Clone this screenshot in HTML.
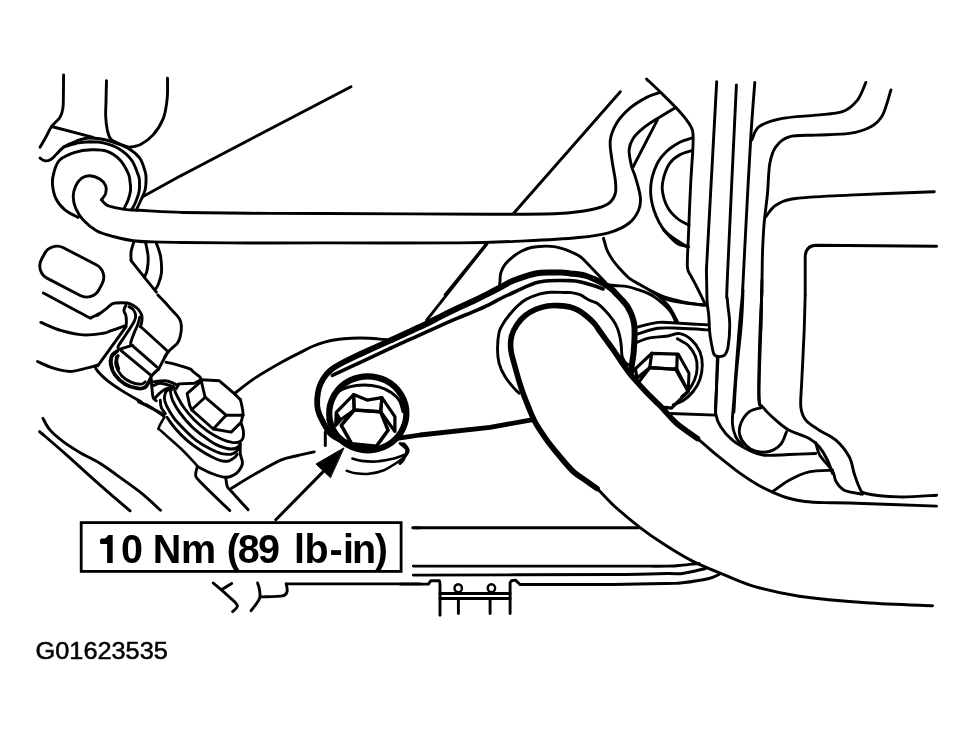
<!DOCTYPE html>
<html><head><meta charset="utf-8">
<style>
html,body{margin:0;padding:0;background:#fff;}
svg{display:block}
.l path{fill:none;stroke:#000;stroke-width:2.9;stroke-linecap:round;stroke-linejoin:round}
.t{font-family:"Liberation Sans",sans-serif;fill:#000}
</style></head><body>
<svg width="974" height="735" viewBox="0 0 974 735">
<rect width="974" height="735" fill="#fff"/>
<g class="l">
<!-- shapes_01_topleft.py -->
<path d="M63.6 75.0C63.6 78.0 63.5 87.7 63.4 93.3C63.3 98.8 63.5 104.2 62.9 108.2C62.3 112.3 61.8 114.3 59.9 117.4C58.0 120.4 54.0 123.2 51.6 126.5C49.2 129.9 47.7 133.9 45.8 137.3C43.8 140.8 40.9 145.7 40.0 147.3"/>
<path d="M51.6 126.5L93.2 137.3"/>
<path d="M40.0 158.1C40.8 158.6 43.1 160.6 45.0 160.8C46.8 161.0 48.8 160.6 50.8 159.5C52.7 158.3 54.4 156.1 56.6 154.0C58.8 151.9 60.8 149.0 64.1 146.8C67.4 144.7 72.8 142.4 76.6 141.0C80.3 139.6 82.7 138.5 86.5 138.2C90.4 137.8 95.4 138.2 99.8 138.8C104.3 139.5 108.4 140.6 113.1 142.2C117.9 143.7 123.7 145.5 128.1 148.2C132.6 150.8 136.9 154.3 139.8 158.1C142.6 162.0 144.0 168.1 145.1 171.4C146.1 174.8 146.1 175.2 146.1 178.3C146.1 181.4 146.0 186.2 145.1 190.0C144.2 193.7 142.0 197.4 140.6 200.8C139.2 204.1 137.1 208.4 136.4 209.9"/>
<path d="M64.1 146.8C66.2 146.2 72.3 144.0 76.6 143.2C80.9 142.3 85.4 141.9 89.9 141.8C94.3 141.8 98.5 141.8 103.2 142.8C107.9 143.9 113.4 145.3 118.1 148.2C122.8 151.0 128.1 155.4 131.4 159.8C134.8 164.2 136.8 171.4 138.1 174.8C139.4 178.1 139.3 177.2 139.4 180.0C139.6 182.8 139.8 187.7 139.1 191.6C138.4 195.5 136.4 200.2 135.1 203.3C133.8 206.3 132.1 208.8 131.4 209.9"/>
<path d="M78.2 217.4C76.0 216.2 68.7 213.1 64.9 209.9C61.2 206.7 57.8 202.7 55.8 198.3C53.7 193.8 52.7 187.7 52.4 183.3C52.2 178.9 52.9 175.6 54.1 171.7C55.3 167.7 56.5 163.0 59.9 159.8C63.4 156.6 69.6 154.0 74.9 152.3C80.2 150.7 86.3 150.0 91.5 149.8C96.8 149.6 101.8 149.5 106.5 151.2C111.2 152.8 116.2 156.1 119.8 159.8C123.4 163.5 126.5 169.7 128.1 173.1C129.8 176.5 129.4 177.2 129.8 180.0C130.2 182.8 130.9 186.6 130.6 190.0C130.3 193.3 129.2 196.8 128.1 199.9C127.0 203.0 124.7 207.1 124.0 208.6"/>
<path d="M106.5 80.8C106.4 84.3 106.1 95.6 106.0 101.6C105.9 107.5 105.4 111.8 105.7 116.6C105.9 121.3 106.5 126.1 107.3 129.9C108.2 133.6 108.6 136.7 110.7 139.0C112.7 141.4 116.8 142.6 119.8 144.0C122.8 145.4 127.4 146.8 128.9 147.3"/>
<path d="M167.5 78.3C167.5 81.6 167.9 91.6 167.2 98.3C166.5 104.9 165.7 112.1 163.4 118.2C161.0 124.3 156.9 130.5 153.1 134.9C149.3 139.2 144.6 142.4 140.6 144.5C136.6 146.6 130.9 146.9 128.9 147.3"/>
<path d="M101.5 199.9C102.2 198.8 105.0 195.6 105.7 193.3C106.4 190.9 106.6 188.2 105.7 185.8C104.7 183.4 102.5 180.8 99.8 179.1C97.2 177.5 92.9 176.0 89.9 175.8C86.8 175.7 83.9 176.7 81.5 178.3C79.2 180.0 77.1 182.8 75.7 185.8C74.3 188.9 73.2 192.9 73.2 196.6C73.2 200.4 74.1 204.4 75.7 208.3C77.4 212.1 79.7 216.2 83.2 219.9C86.7 223.6 91.5 227.9 96.5 230.7C101.5 233.5 107.0 234.9 113.1 236.5C119.2 238.2 126.5 239.8 133.1 240.7C139.8 241.6 144.9 241.6 153.1 241.9C161.2 242.2 177.2 242.4 182.0 242.5"/>
<path d="M101.5 199.9C102.3 200.8 104.0 203.6 106.5 204.9C109.0 206.3 113.1 207.1 116.5 207.9C119.8 208.7 122.6 209.2 126.5 209.6C130.3 210.0 133.9 209.9 139.8 210.3C145.6 210.6 154.3 211.2 161.4 211.6C168.4 211.9 178.6 212.3 182.0 212.4"/>
<path d="M143.1 196.6L182.0 175.0"/>
<!-- shapes_02_left.py -->
<path d="M63.4 247.7L96.2 264.8A14 14 0 0 1 102.2 283.7L99.1 289.5A14 14 0 0 1 80.2 295.5L47.4 278.4A14 14 0 0 1 41.4 259.5L44.5 253.7A14 14 0 0 1 63.4 247.7Z"/>
<path d="M133.9 241.5C133.5 243.2 131.6 248.3 131.1 251.5C130.6 254.7 131.1 259.1 131.1 260.7"/>
<path d="M131.1 260.7L146.4 279.8L156.4 292.1"/>
<path d="M145.6 242.4C146.0 244.7 147.8 251.9 148.1 256.5C148.4 261.1 147.8 266.5 147.2 269.8C146.7 273.1 145.2 275.3 144.8 276.5"/>
<path d="M156.4 243.2C157.1 245.4 159.7 251.5 160.6 256.5C161.4 261.5 161.8 268.4 161.4 273.1C161.0 277.8 159.0 282.1 158.1 284.8C157.1 287.4 156.0 288.2 155.6 288.9"/>
<path d="M43.3 293.0C50.4 296.8 77.7 311.7 85.7 315.8C93.7 319.8 89.2 317.8 91.5 317.4C93.9 317.0 98.9 313.6 99.8 313.3C100.8 313.0 96.3 316.2 97.2 315.5C98.1 314.9 103.0 311.3 105.4 309.4C107.8 307.5 109.8 305.3 111.6 304.2C113.3 303.2 113.1 303.2 115.7 303.0C118.2 302.8 124.1 302.6 127.0 303.0C129.9 303.4 131.2 304.2 133.1 305.3C135.0 306.3 136.8 307.7 138.3 309.4C139.7 311.1 141.2 313.5 141.8 315.5C142.4 317.6 142.1 319.8 141.8 321.7C141.6 323.6 140.6 326.0 140.3 326.8"/>
<path d="M125.9 305.3C125.6 306.1 123.9 308.7 123.9 310.4C123.9 312.1 125.5 313.7 125.9 315.5C126.4 317.4 126.4 319.8 126.4 321.7C126.4 323.6 126.0 326.0 125.9 326.8"/>
<path d="M129.0 306.8C129.7 307.2 132.0 307.9 133.1 309.4C134.2 310.8 135.5 313.5 135.7 315.5C135.9 317.6 135.3 319.3 134.1 321.7C133.0 324.1 130.9 327.0 129.0 329.9C127.1 332.8 124.7 336.4 122.9 339.1C121.1 341.9 118.9 344.6 118.2 346.3C117.5 348.0 118.7 348.9 118.7 349.4"/>
<path d="M40.8 322.4C44.3 323.8 54.5 328.7 61.6 330.7C68.7 332.8 76.3 334.5 83.2 334.9C90.1 335.3 98.6 333.9 103.2 333.2C107.7 332.6 106.9 332.2 110.5 330.9C114.2 329.7 122.5 326.7 124.9 325.8"/>
<path d="M125.9 326.8L97.7 365.8"/>
<path d="M37.5 361.5C40.1 362.6 47.9 366.5 53.3 368.2C58.7 369.8 64.4 371.5 69.9 371.5C75.4 371.5 81.8 369.3 86.5 368.2C91.2 367.0 96.2 365.4 98.2 364.8"/>
<path d="M98.2 364.8C97.8 365.4 94.3 365.7 95.7 368.2C97.1 370.7 101.9 375.9 106.5 379.8C111.1 383.7 117.3 387.7 123.1 391.4C128.9 395.2 138.4 400.3 141.4 402.1"/>
<path d="M139.8 317.1C139.5 318.4 138.7 322.1 137.7 324.8C136.8 327.4 135.3 329.9 134.1 333.0C133.0 336.1 130.9 341.2 130.6 343.3C130.2 345.3 131.8 345.0 132.1 345.3"/>
<path d="M132.1 345.3L120.8 348.9"/>
<path d="M141.3 327.3L168.0 351.5"/>
<path d="M132.1 345.3L156.7 366.9"/>
<path d="M120.8 350.4L151.6 375.8"/>
<path d="M168.0 351.5L161.9 362.8L158.8 368.9"/>
<path d="M157.8 295.0C158.8 296.0 161.5 298.6 163.9 301.2C166.3 303.7 169.6 307.5 172.1 310.4C174.7 313.3 177.8 316.0 179.3 318.6C180.9 321.2 181.2 322.9 181.4 325.8C181.5 328.7 181.0 333.2 180.3 336.1C179.7 339.0 179.2 340.8 177.3 343.3C175.4 345.7 171.1 348.7 169.1 351.0C167.0 353.2 165.6 355.7 164.9 356.6"/>
<path d="M117.7 351.0C116.8 351.6 113.2 352.9 112.1 354.5C111.0 356.2 111.0 358.3 111.0 360.7C111.1 363.1 112.3 367.6 112.6 368.9"/>
<path d="M118.2 355.6C118.0 356.4 116.6 358.5 116.7 360.7C116.8 362.9 118.4 367.6 118.7 368.9"/>
<!-- shapes_03_bolt2.py -->
<path d="M116.6 351.6C115.8 352.5 112.6 354.4 111.6 356.6C110.7 358.9 110.3 361.9 110.8 365.0C111.4 368.0 112.6 371.7 115.0 374.9C117.3 378.1 121.3 381.9 125.0 384.1C128.6 386.3 133.3 387.7 136.6 388.2C139.9 388.8 142.7 388.8 144.9 387.4C147.1 386.0 149.1 381.2 149.9 379.9" style="stroke-width:3.8;"/>
<path d="M116.6 356.6C116.5 358.0 115.0 361.8 115.8 365.0C116.6 368.1 119.0 372.9 121.6 375.8C124.3 378.7 128.3 381.0 131.6 382.4C134.9 383.8 139.3 384.2 141.6 384.1C143.9 384.0 144.6 382.3 145.2 381.9"/>
<path d="M158.7 368.9C157.5 370.1 153.0 374.0 151.6 375.8C150.1 377.5 150.2 378.9 149.9 379.6"/>
<path d="M138.3 401.5C141.3 403.1 152.3 408.5 156.6 410.7C160.9 412.9 162.8 414.2 164.0 414.9"/>
<path d="M166.0 362.2C167.9 362.6 173.3 363.7 177.3 364.8C181.3 365.9 187.4 367.8 190.0 368.9C192.6 370.0 191.5 370.3 193.1 371.6C194.8 372.9 198.5 375.6 199.8 376.9C201.1 378.3 200.8 379.3 201.0 379.8"/>
<path d="M201.0 379.8L219.4 380.8L234.3 393.6L240.5 399.8"/>
<path d="M240.5 399.8C240.8 401.3 242.1 406.4 242.5 409.0C243.0 411.6 243.0 414.1 243.0 415.2"/>
<path d="M201.0 379.8C201.4 381.6 202.8 387.6 203.5 390.5C204.2 393.4 204.8 396.1 205.1 397.2"/>
<path d="M205.1 397.2L226.1 415.2L243.0 415.2"/>
<path d="M226.1 415.2L213.3 429.0L231.2 432.1L241.0 422.4L243.0 415.2"/>
<path d="M201.0 381.3L187.1 393.6L189.7 405.4L191.7 409.8L205.1 397.2"/>
<path d="M191.7 409.8L213.3 429.0"/>
<path d="M151.2 378.2C151.3 380.3 151.8 387.3 152.2 390.5C152.5 393.8 152.5 396.0 153.2 397.7C153.9 399.4 155.8 400.3 156.3 400.8"/>
<path d="M153.7 381.8C155.7 381.6 162.0 380.4 165.5 380.8C169.0 381.1 172.9 383.1 174.8 383.9C176.7 384.6 176.5 385.1 176.8 385.4"/>
<path d="M176.8 385.4L178.9 383.9L194.3 383.3L201.0 379.8"/>
<path d="M153.7 385.4C154.8 385.1 157.7 383.3 160.4 383.3C163.1 383.3 167.4 384.8 169.6 385.4C171.9 386.0 173.1 386.7 173.7 386.9"/>
<path d="M155.3 397.7C156.1 396.9 158.7 394.0 160.4 392.6C162.1 391.1 163.5 389.9 165.5 389.0C167.6 388.1 171.5 387.3 172.7 386.9"/>
<path d="M178.9 384.4C178.5 385.1 177.0 387.5 176.3 388.5C175.6 389.4 174.4 388.5 174.6 390.0C174.9 391.5 176.2 394.3 177.7 397.2C179.3 400.1 181.1 403.7 183.9 407.5C186.6 411.2 190.2 415.8 194.1 419.8C198.1 423.7 202.9 427.8 207.5 431.1C212.1 434.3 217.8 437.4 221.9 439.3C226.0 441.2 229.2 441.9 232.1 442.4C235.0 442.8 237.5 442.5 239.3 441.8C241.1 441.2 242.2 440.1 242.9 438.3C243.6 436.5 243.7 433.5 243.4 431.1C243.2 428.7 241.7 425.1 241.4 423.9"/>
<path d="M173.7 386.9C173.3 387.5 171.7 389.2 171.2 390.0C170.6 390.9 170.3 390.3 170.5 392.1C170.8 393.8 171.0 396.8 172.6 400.3C174.1 403.7 176.7 408.3 179.8 412.6C182.9 416.9 187.1 422.0 191.1 425.9C195.0 429.9 199.3 433.1 203.4 436.2C207.5 439.3 211.8 442.4 215.7 444.4C219.6 446.5 223.8 447.8 227.0 448.5C230.3 449.2 233.2 449.0 235.2 448.5C237.3 448.0 238.5 446.5 239.3 445.4C240.2 444.4 240.2 442.9 240.3 442.4"/>
<path d="M168.6 389.5C168.1 389.9 166.1 391.5 165.5 392.1C165.0 392.7 165.6 392.1 165.4 393.1C165.2 394.1 164.2 396.2 164.4 398.2C164.5 400.3 164.9 402.1 166.4 405.4C168.0 408.7 170.7 413.8 173.6 417.7C176.5 421.7 180.1 425.2 183.9 429.0C187.6 432.8 191.9 437.1 196.2 440.3C200.5 443.6 205.3 446.3 209.5 448.5C213.8 450.7 218.3 452.7 221.9 453.7C225.5 454.6 228.7 454.5 231.1 454.2C233.5 453.8 235.0 452.5 236.2 451.6C237.4 450.7 238.0 449.0 238.3 448.5"/>
<path d="M160.3 400.3C160.4 401.5 160.4 405.2 161.3 407.5C162.1 409.7 164.7 412.6 165.4 413.6"/>
<path d="M166.9 417.2C168.4 419.2 172.3 425.2 175.7 429.0C179.0 432.9 183.0 436.9 187.0 440.3C190.9 443.7 195.2 446.8 199.3 449.5C203.4 452.3 207.8 454.9 211.6 456.7C215.4 458.6 219.0 460.2 221.9 460.8C224.8 461.5 227.0 461.4 229.1 460.8C231.1 460.3 232.8 458.9 234.2 457.8C235.6 456.6 236.8 454.8 237.3 454.2"/>
<path d="M164.4 417.2C163.4 419.0 159.2 425.7 158.7 428.0C158.2 430.3 157.6 427.6 161.3 431.1C165.0 434.5 175.2 443.2 180.8 448.5C186.4 453.9 192.1 460.2 194.9 463.2C197.7 466.2 197.0 466.0 197.4 466.5" style="stroke-width:2.6;"/>
<path d="M240.3 444.4C240.3 446.0 240.0 450.7 240.3 453.7C240.7 456.6 242.2 459.7 242.4 461.9C242.6 464.0 242.5 464.6 241.5 466.5C240.5 468.4 239.0 471.4 236.5 473.2C234.0 475.0 230.4 477.2 226.5 477.3C222.6 477.5 218.0 475.8 213.2 474.0C208.3 472.2 200.0 467.8 197.4 466.5"/>
<path d="M197.4 466.5C197.1 467.9 195.3 472.4 195.7 474.9C196.1 477.3 194.2 475.5 199.9 481.5C205.6 487.5 224.8 505.8 229.8 510.6"/>
<path d="M225.7 477.3C225.9 478.9 226.4 484.1 227.3 486.5C228.3 488.9 228.0 487.6 231.5 491.5C234.9 495.4 245.3 506.7 248.1 509.8"/>
<path d="M231.5 488.2C235.6 485.7 248.1 477.9 256.4 473.2C264.8 468.5 274.8 462.7 281.4 459.9C288.0 457.0 292.1 457.0 296.0 456.0C299.9 455.0 302.0 454.5 305.0 453.8C308.0 453.1 312.7 452.2 314.2 451.9"/>
<path d="M140.0 402.5C141.7 403.2 146.1 404.4 150.0 406.7C153.9 408.9 161.1 414.3 163.3 415.8"/>
<!-- shapes_04_bolt2low.py -->
<path d="M42.9 418.3C44.1 420.2 46.5 426.0 49.9 429.9C53.3 433.8 58.2 437.9 63.2 441.6C68.2 445.4 73.7 448.8 79.8 452.4C85.9 456.0 93.7 459.5 99.8 463.2C105.9 466.9 109.5 469.8 116.4 474.8C123.3 479.8 134.1 487.2 141.4 493.1C148.8 499.0 157.3 507.4 160.5 510.3"/>
<path d="M39.6 431.6C44.1 435.5 56.5 446.0 66.5 454.9C76.5 463.8 89.2 475.5 99.8 484.8C110.4 494.1 125.0 506.5 130.1 510.8"/>
<!-- shapes_05_mainbolt.py -->
<path d="M234.9 393.1C238.2 390.6 247.4 383.1 254.9 378.1C262.4 373.1 272.3 367.4 279.8 363.2C287.3 359.0 294.6 355.4 300.0 352.6C305.4 349.9 308.2 348.2 312.3 346.5C316.4 344.7 320.5 343.3 324.6 342.2C328.7 341.0 332.4 340.1 337.0 339.5C341.5 338.8 346.4 338.4 351.7 338.2C357.1 338.0 363.7 338.0 369.0 338.2C374.3 338.4 380.3 339.2 383.8 339.5C387.3 339.8 388.9 340.0 389.9 340.1"/>
<path d="M391.2 340.1C386.2 342.3 370.0 349.6 361.6 353.5C353.2 357.5 345.9 360.9 340.7 363.7C335.4 366.6 333.1 368.0 330.2 370.5C327.3 373.0 325.3 375.6 323.4 378.5C321.6 381.4 320.1 384.4 319.1 387.8C318.1 391.1 317.5 395.2 317.2 398.8C317.0 402.5 317.0 406.3 317.9 409.9C318.7 413.5 320.0 416.4 322.2 420.4C324.3 424.4 327.5 430.6 330.8 434.0C334.1 437.3 338.6 439.0 341.9 440.7C345.2 442.5 349.1 443.8 350.5 444.4" style="stroke-width:5.8;"/>
<path d="M391.2 347.8C386.6 350.0 371.5 357.2 364.1 360.7C356.7 364.1 352.1 366.2 346.8 368.7C341.5 371.1 334.7 374.3 332.3 375.4" style="stroke-width:3.6;"/>
<path d="M367.8 376.3 a38.6 37 0 1 0 0.01 0Z" style="stroke-width:6.2;"/>
<path d="M329.0 419.6C329.5 421.1 330.7 425.5 332.3 428.3C333.8 431.0 335.4 433.6 338.2 436.3C341.0 438.9 345.0 442.2 349.3 444.3C353.6 446.4 359.5 448.0 364.1 449.0C368.6 449.9 374.3 449.7 376.4 449.8" style="stroke-width:5;"/>
<path d="M349.3 444.8C351.3 445.2 357.3 446.8 361.6 447.3C365.9 447.8 372.9 447.7 375.2 447.8" style="stroke-width:4;"/>
<path d="M330.8 402.0C331.8 400.4 333.9 395.2 337.0 392.7C340.0 390.2 344.8 388.2 349.3 386.9C353.8 385.7 359.1 385.1 364.1 385.1C369.0 385.1 374.3 385.7 378.8 386.9C383.4 388.1 387.7 390.1 391.2 392.4C394.6 394.7 397.6 397.5 399.5 400.7C401.5 404.0 402.4 410.0 403.0 411.8" style="stroke-width:3;"/>
<path d="M353.6 394.6L367.1 400.1L381.9 397.7L380.7 411.8L354.2 410.0Z" style="stroke-width:3.2;"/>
<path d="M353.6 394.6L336.3 412.4L335.7 425.4L341.3 419.2L354.2 410.0Z" style="stroke-width:3.2;"/>
<path d="M336.7 412.8L340.7 419.0L336.0 425.1Z" style="stroke-width:2;fill:#000;"/>
<path d="M381.9 397.7L394.9 416.7L394.9 431.5L388.7 422.9L380.7 411.8Z" style="stroke-width:3.2;"/>
<path d="M354.2 410.0L380.7 411.8L388.1 430.3L376.4 446.3L351.7 443.9L341.3 425.4Z" style="stroke-width:3.6;"/>
<path d="M397.3 438.4L420.0 435.0L490.0 427.3L531.6 419.9" style="stroke-width:4.8;"/>
<path d="M325.3 432.0L325.3 445.5" style="stroke-width:3;"/>
<path d="M352.4 458.5C353.9 458.9 357.6 460.4 361.6 460.9C365.6 461.4 371.5 461.8 376.4 461.5C381.3 461.2 386.4 460.2 391.2 459.1C395.9 457.9 402.5 455.5 404.7 454.8" style="stroke-width:2.6;"/>
<path d="M346.8 470.8C348.3 471.2 351.7 472.7 355.4 473.2C359.1 473.7 364.3 474.4 369.0 473.8C373.7 473.3 378.8 472.2 383.8 470.2C388.7 468.1 394.9 464.0 398.6 461.5C402.3 459.1 404.3 457.2 406.0 455.4C407.6 453.5 408.6 452.3 408.4 450.4C408.2 448.6 405.7 445.4 404.7 444.3C403.7 443.2 402.7 443.8 402.3 443.7" style="stroke-width:2.6;"/>
<path d="M275.8 519.8L323.2 471.6" style="stroke-width:3;"/>
<path d="M343.7 448.0L316.0 464.0L330.2 477.5Z" style="stroke-width:1;fill:#000;"/>
<!-- shapes_06_underbox.py -->
<path d="M213.2 583.0C215.5 585.0 223.1 591.3 227.1 595.0C231.1 598.7 236.3 602.4 237.3 605.2C238.2 607.9 233.4 610.6 232.6 611.6"/>
<path d="M221.9 589.5L231.7 583.4"/>
<path d="M257.6 583.0C257.9 584.1 259.1 586.8 259.4 589.5C259.7 592.1 260.8 595.2 259.4 598.7C258.0 602.3 252.5 608.7 251.1 610.7"/>
<path d="M261.3 596.9C264.8 596.7 278.2 596.9 282.5 595.9C286.8 595.0 286.5 593.3 287.1 591.3C287.7 589.3 286.4 585.2 286.2 583.9"/>
<path d="M286.2 583.9L420.0 583.9"/>
<!-- shapes_07_topright.py -->
<path d="M182.3 212.5C193.6 212.6 226.2 213.1 250.0 213.3C273.8 213.5 284.7 213.4 325.0 213.5C365.3 213.6 452.9 214.2 491.8 214.2C530.8 214.2 541.9 214.3 558.6 213.5C575.3 212.7 583.6 211.2 591.9 209.5C600.3 207.8 604.7 206.2 608.6 203.5C612.5 200.8 614.2 197.4 615.3 193.5C616.4 189.6 615.8 185.7 615.3 180.1C614.7 174.6 612.8 166.8 612.0 160.1C611.1 153.4 609.5 146.2 610.3 140.1C611.1 133.9 613.4 128.5 616.6 123.2C619.9 117.9 625.0 112.5 629.9 108.2C634.9 103.9 641.6 100.1 646.6 97.4C651.6 94.8 657.7 93.3 659.9 92.4"/>
<path d="M182.3 242.5C193.6 242.6 226.2 242.9 250.0 243.0C273.8 243.1 290.3 242.9 325.0 242.9C359.7 242.8 425.1 243.2 458.5 242.9C491.8 242.5 505.2 241.7 525.2 240.9C545.2 240.0 564.7 238.9 578.6 237.5C592.5 236.2 600.3 235.2 608.6 232.8C617.0 230.5 623.6 227.3 628.6 223.5C633.6 219.7 636.7 214.6 638.6 210.2C640.6 205.7 640.9 202.4 640.3 196.8C639.8 191.3 636.8 181.9 635.3 176.8C633.9 171.7 632.6 170.9 631.6 166.5C630.6 162.0 628.8 154.5 629.1 149.8C629.4 145.1 630.9 141.8 633.3 138.2C635.6 134.6 639.4 131.4 643.2 128.2C647.1 125.0 651.1 122.5 656.6 119.0C662.0 115.6 672.5 109.3 675.7 107.4"/>
<path d="M657.4 119.9L633.3 166.5"/>
<path d="M182.3 175.0L351.0 86.7"/>
<path d="M620.3 91.7L513.5 213.5"/>
<path d="M486.8 243.5L445.1 294.9"/>
<path d="M646.6 79.1C648.8 81.2 655.2 87.0 659.9 91.6C664.6 96.2 670.4 101.9 674.9 106.6C679.3 111.3 683.6 116.0 686.5 119.9C689.4 123.8 691.2 126.0 692.3 129.9C693.4 133.7 693.4 134.2 693.1 143.2C692.9 152.1 691.5 167.9 690.7 183.5C689.9 199.1 688.9 223.0 688.4 236.9C687.8 250.8 687.0 260.4 687.4 266.9C687.8 273.4 689.4 272.7 690.8 275.7C692.2 278.7 694.1 281.6 695.7 284.8C697.3 288.0 699.1 291.6 700.6 294.6C702.1 297.6 703.9 301.6 704.5 303.0"/>
<path d="M691.5 138.2C689.5 138.9 684.0 140.1 679.8 142.3C675.7 144.6 670.4 147.7 666.5 151.5C662.7 155.2 659.2 158.9 656.6 164.8C653.9 170.7 651.1 179.2 650.7 186.8C650.2 194.4 651.5 202.7 654.0 210.2C656.5 217.7 660.1 225.7 665.7 231.8C671.2 238.0 683.8 244.4 687.4 246.9"/>
<path d="M691.5 150.7C689.5 151.3 683.4 152.7 679.8 154.8C676.2 156.9 672.5 159.5 669.9 163.1C667.2 166.7 665.3 171.9 664.0 176.4C662.8 180.9 661.8 185.1 662.3 190.1C662.9 195.2 664.8 202.1 667.4 206.8C669.9 211.6 673.7 215.4 677.4 218.5C681.0 221.6 687.1 224.1 689.0 225.2"/>
<path d="M716.7 81.7L706.4 270.0"/>
<path d="M754.8 82.4C754.1 91.4 752.2 114.3 750.8 136.8C749.4 159.2 747.8 190.5 746.4 216.8C745.0 243.2 743.1 281.9 742.4 294.9"/>
<path d="M751.8 140.1C753.0 137.9 754.0 130.4 759.1 126.7C764.2 123.1 773.0 120.3 782.5 118.4C791.9 116.5 805.8 116.2 815.8 115.1C825.8 114.0 835.6 114.2 842.5 111.7C849.5 109.2 853.6 104.9 857.5 100.1C861.4 95.2 864.5 85.3 865.9 82.4"/>
<path d="M890.9 90.0C889.5 94.2 885.9 108.9 882.6 115.1C879.2 121.2 876.4 123.7 870.9 126.7C865.3 129.8 858.4 132.0 849.2 133.4C840.0 134.8 825.8 134.5 815.8 135.1C805.8 135.6 795.8 134.8 789.1 136.8C782.5 138.7 779.0 142.3 775.8 146.8C772.6 151.2 771.2 155.7 769.8 163.4C768.4 171.2 768.4 183.5 767.5 193.5C766.5 203.5 764.9 214.1 764.1 223.5C763.3 232.9 763.0 240.6 762.6 250.0C762.2 259.4 762.3 266.7 762.0 280.0C761.7 293.3 761.0 321.7 760.8 330.0"/>
<path d="M765.8 216.8C767.5 214.9 770.8 208.2 775.8 205.2C780.8 202.1 783.6 200.2 795.8 198.5C808.0 196.8 826.1 196.3 849.2 195.1C872.3 194.0 920.1 192.4 934.3 191.8"/>
<path d="M936.6 246.2L816.5 245.2Q805.2 245.4 805.2 257.5L805.2 294.9"/>
<!-- shapes_08_center.py -->
<path d="M486.8 244.0L426.7 320.1"/>
<path d="M391.2 340.1C396.9 337.5 417.4 328.2 425.5 324.3C433.6 320.4 434.9 319.4 440.0 316.8C445.1 314.2 450.9 311.3 456.4 308.7C461.9 306.1 467.4 303.8 472.9 301.2C478.4 298.6 484.8 295.4 489.3 293.1C493.8 290.8 496.2 289.5 500.0 287.5C503.8 285.5 508.2 282.9 512.3 281.1C516.4 279.3 520.5 277.9 524.6 276.6C528.7 275.3 532.9 274.0 537.0 273.3C541.1 272.6 545.2 272.6 549.3 272.5C553.4 272.4 558.1 272.4 561.6 272.5C565.1 272.6 567.2 273.1 570.0 273.4C572.8 273.7 575.5 273.8 578.2 274.2C580.9 274.6 583.7 275.1 586.4 276.0C589.1 276.9 591.9 278.1 594.6 279.3C597.4 280.5 600.1 281.8 602.9 283.4C605.6 285.0 608.6 286.7 611.1 288.7C613.6 290.7 615.6 293.2 617.6 295.3C619.6 297.4 621.4 299.1 623.0 301.0C624.6 302.9 626.1 304.3 627.5 306.6C628.9 308.9 630.5 311.9 631.6 314.8C632.7 317.7 633.6 320.8 634.1 323.8C634.6 326.8 634.6 329.8 634.6 332.9C634.6 336.0 634.5 339.4 634.3 342.7C634.1 346.0 633.8 350.0 633.6 352.6C633.4 355.2 633.2 355.9 632.9 358.2C632.6 360.5 631.9 364.1 631.6 366.4C631.3 368.7 631.3 371.1 631.2 372.0" style="stroke-width:6;"/>
<path d="M391.2 347.8C393.8 346.6 401.3 343.3 407.0 340.7C412.7 338.1 420.0 334.9 425.5 332.4C431.0 329.9 434.9 328.2 440.0 325.9C445.1 323.6 450.9 320.9 456.4 318.6C461.9 316.3 467.4 314.2 472.9 311.9C478.4 309.6 484.8 306.8 489.3 304.6C493.8 302.4 496.2 300.7 500.0 298.8C503.8 296.9 508.2 294.9 512.3 293.0C516.4 291.1 520.5 289.1 524.6 287.3C528.7 285.5 532.9 283.5 537.0 282.4C541.1 281.3 545.2 281.0 549.3 280.7C553.4 280.4 558.1 280.5 561.6 280.5C565.1 280.5 567.2 280.5 570.0 280.6C572.8 280.8 575.5 280.9 578.2 281.4C580.9 281.9 583.6 282.6 586.4 283.4C589.2 284.2 592.2 285.1 595.0 286.0C597.8 286.9 601.7 288.5 603.0 289.0" style="stroke-width:3.6;"/>
<path d="M499.5 286.0C499.6 285.2 499.8 283.3 500.0 281.1C500.2 278.9 500.0 275.6 500.8 272.9C501.6 270.2 503.0 267.3 504.9 264.7C506.8 262.1 509.5 259.6 512.3 257.3C515.0 255.1 518.2 252.8 521.4 251.2C524.5 249.6 527.7 248.3 531.2 247.5C534.8 246.7 538.9 246.3 542.7 246.2C546.5 246.0 550.6 246.1 554.2 246.6C557.8 247.1 560.8 248.0 564.1 249.1C567.4 250.2 571.2 252.0 573.9 253.2C576.5 254.4 578.3 255.4 580.0 256.5C581.7 257.6 581.5 257.5 584.0 260.0C586.5 262.5 591.5 267.8 595.0 271.5C598.5 275.2 603.6 280.4 605.3 282.2"/>
<path d="M519.1 393.2C518.1 392.2 515.6 390.2 513.3 387.4C510.9 384.6 507.4 380.6 505.0 376.6C502.6 372.6 500.4 367.9 499.1 363.3C497.9 358.7 497.5 354.1 497.5 349.0C497.5 343.9 498.1 336.9 499.0 332.7C499.9 328.5 501.5 326.6 503.1 323.7C504.8 320.8 506.6 318.4 508.9 315.5C511.2 312.6 514.2 309.1 517.1 306.4C520.0 303.7 522.4 301.4 526.1 299.4C529.8 297.3 535.0 295.3 539.3 294.1C543.5 292.9 547.5 292.6 551.6 292.3C555.7 292.0 560.6 292.4 563.9 292.5C567.2 292.6 568.8 292.2 571.5 292.6C574.2 293.0 577.1 293.5 580.0 294.7C582.9 295.9 586.0 298.6 588.9 300.0C591.8 301.4 594.4 301.5 597.1 303.3C599.8 305.1 602.7 308.0 605.3 310.7C607.9 313.4 610.7 316.7 612.7 319.7C614.8 322.7 616.4 325.7 617.6 328.7C618.8 331.7 619.5 334.9 620.1 337.8C620.7 340.7 621.0 343.6 621.3 346.0C621.5 348.4 621.5 350.2 621.6 352.0C621.8 353.8 621.7 355.0 622.2 356.6C622.7 358.2 623.7 360.1 624.6 361.5C625.5 362.9 627.4 364.2 627.9 364.8"/>
<path d="M597.0 488.5C595.0 487.1 589.0 482.8 585.0 480.0C581.0 477.2 577.5 475.5 573.3 471.6C569.1 467.7 564.3 461.8 559.9 456.5C555.5 451.2 550.6 445.4 546.6 439.8C542.6 434.2 538.8 428.7 535.7 423.2C532.7 417.7 530.8 412.7 528.3 406.6C525.8 400.5 523.0 393.3 520.8 386.6C518.6 379.9 516.6 372.7 515.0 366.6C513.4 360.5 511.5 355.1 510.9 350.0C510.3 344.9 510.6 340.2 511.6 336.0C512.6 331.8 514.8 327.9 517.1 324.5C519.4 321.1 522.1 318.0 525.3 315.5C528.4 313.0 532.3 310.9 536.0 309.3C539.7 307.7 543.8 306.6 547.5 306.0C551.2 305.4 554.5 305.4 558.2 305.6C562.0 305.8 566.7 306.2 570.0 307.0C573.3 307.8 575.5 308.8 578.2 310.3C580.9 311.8 583.7 313.8 586.4 316.0C589.1 318.2 592.3 321.1 594.6 323.8C596.9 326.5 598.3 329.1 600.4 332.0C602.5 334.9 604.8 338.1 607.0 341.1C609.2 344.1 611.2 346.8 613.5 350.1C615.8 353.4 618.0 357.0 620.5 360.7C623.0 364.4 626.0 368.6 628.7 372.2C631.5 375.8 634.1 378.7 637.0 382.0C639.9 385.3 642.9 388.6 646.0 391.9C649.1 395.2 652.9 398.7 655.9 401.7C658.9 404.7 660.7 406.4 664.1 410.0C667.5 413.6 671.0 418.5 676.6 423.3C682.1 428.0 693.9 436.0 697.4 438.6" style="stroke-width:5.6;"/>
<path d="M676.6 423.3C680.1 425.8 690.7 433.3 697.4 438.6C704.0 443.8 709.4 449.1 716.5 454.9C723.6 460.6 733.1 468.3 739.8 473.2C746.5 478.0 750.9 480.8 756.4 484.0C762.0 487.2 767.5 489.9 773.1 492.3C778.6 494.7 784.4 497.0 789.7 498.5C795.0 500.0 799.1 500.8 805.0 501.5C810.9 502.2 817.6 502.4 825.0 502.6C832.4 502.9 830.6 502.4 849.2 503.0C867.8 503.6 922.0 505.6 936.6 506.1"/>
<path d="M603.5 238.3C604.1 240.2 605.5 246.4 607.0 250.0C608.5 253.6 610.7 257.0 612.7 260.0C614.8 263.0 616.6 265.2 619.3 268.2C622.0 271.2 625.7 275.4 629.1 278.1C632.5 280.8 636.2 282.5 639.8 284.6C643.4 286.7 646.6 288.6 650.5 290.5C654.4 292.4 658.8 294.7 662.9 296.3C667.0 297.9 671.1 298.9 675.2 300.0C679.3 301.1 683.4 302.1 687.5 302.9C691.6 303.6 696.8 304.1 699.8 304.5C702.8 304.9 704.6 305.2 705.6 305.3"/>
<path d="M606.0 284.5C607.4 284.7 610.8 285.1 614.4 285.5C618.0 285.9 623.5 285.9 627.5 286.6C631.5 287.3 635.1 288.7 638.2 289.7C641.4 290.7 643.7 291.4 646.4 292.6C649.1 293.8 651.9 295.2 654.6 297.1C657.4 299.0 660.4 301.5 662.9 303.7C665.4 305.9 667.6 308.0 669.4 310.2C671.2 312.4 672.5 314.9 673.5 316.8C674.5 318.7 675.2 320.9 675.6 321.7"/>
<path d="M663.6 230.0C665.8 232.2 672.8 240.6 676.9 243.3C681.1 246.1 686.7 246.1 688.6 246.7"/>
<path d="M636.6 327.4C640.2 326.6 651.0 323.1 658.2 322.4C665.4 321.7 671.5 322.9 679.8 323.3C688.2 323.7 703.4 324.7 708.1 324.9"/>
<path d="M637.4 334.1C640.9 333.1 651.1 329.2 658.2 328.3C665.3 327.3 671.5 328.0 679.8 328.3C688.2 328.5 703.4 329.6 708.1 329.9"/>
<path d="M636.6 342.4C638.8 341.6 644.9 338.9 649.9 337.9C654.9 336.9 661.5 337.0 666.5 336.2C671.5 335.5 675.7 333.0 679.8 333.6C684.0 334.2 688.2 336.9 691.5 339.9C694.8 342.9 698.0 347.4 699.8 351.5C701.6 355.7 702.3 360.1 702.3 364.9C702.3 369.6 701.3 375.4 699.8 379.8C698.3 384.3 695.9 388.0 693.1 391.5C690.4 394.9 686.5 398.4 683.2 400.6C679.8 402.8 674.9 404.1 673.2 404.8"/>
<path d="M677.3 338.7C679.2 339.9 685.5 342.8 688.5 345.7C691.5 348.7 694.0 352.8 695.5 356.5C696.9 360.3 697.3 364.3 697.1 368.2C697.0 372.1 696.1 376.1 694.6 379.8C693.1 383.6 690.3 388.0 688.2 390.8C686.0 393.6 682.9 395.5 681.8 396.5"/>
<path d="M651.7 353.3L677.2 354.1L676.8 369.3L649.7 367.7Z" style="stroke-width:3.2;"/>
<path d="M651.7 353.3L635.3 368.9L637.0 377.9L649.7 367.7" style="stroke-width:3.2;"/>
<path d="M678.2 354.0L689.0 373.2L688.2 391.5L674.9 368.2" style="stroke-width:3;"/>
<path d="M639.4 381.2L649.7 367.7L676.8 369.3L688.2 391.5L671.5 408.1L664.9 407.3" style="stroke-width:3.2;"/>
<path d="M706.4 270.0C706.5 273.4 706.7 285.0 706.8 290.5C706.9 296.0 706.9 298.6 707.2 302.9C707.5 307.1 708.4 310.9 708.8 316.0C709.2 321.1 709.3 328.7 709.8 333.2C710.2 337.8 710.8 339.8 711.4 343.2C712.1 346.7 712.8 351.8 713.9 354.0C715.0 356.3 716.3 356.4 718.1 356.5C719.9 356.7 723.1 356.5 724.8 354.9C726.4 353.2 727.2 351.8 728.1 346.6C728.9 341.3 729.9 331.0 729.7 323.3C729.6 315.5 727.8 308.0 727.4 300.0C727.0 292.0 726.0 310.8 727.5 275.0C729.0 239.2 734.9 116.7 736.4 85.0"/>
<path d="M718.1 356.5C717.8 362.1 716.8 380.5 716.4 389.8C716.0 399.1 715.7 408.4 715.6 412.1"/>
<path d="M743.0 290.0C742.8 295.5 742.5 309.4 741.4 323.3C740.3 337.1 737.6 358.4 736.4 373.2C735.1 388.0 734.3 405.6 733.9 412.1"/>
<path d="M762.0 290.0C761.6 298.3 760.2 321.9 759.7 339.9C759.2 357.9 758.5 387.0 758.8 398.1C759.2 409.2 761.5 405.0 762.0 406.4"/>
<!-- shapes_09_botright.py -->
<path d="M717.4 356.7C717.2 362.3 716.7 380.7 716.4 390.1C716.1 399.6 715.0 407.3 715.7 413.5C716.5 419.6 718.0 422.4 720.7 426.8C723.5 431.3 727.7 436.3 732.4 440.2C737.1 444.1 743.8 447.7 749.1 450.2C754.4 452.7 757.4 454.5 764.1 455.2C770.8 455.9 780.5 454.8 789.1 454.5C797.8 454.2 811.4 453.7 815.8 453.5"/>
<path d="M742.4 294.9C741.8 300.8 740.5 313.1 739.1 330.1C737.7 347.0 735.2 381.2 734.1 396.8C733.0 412.4 732.1 416.8 732.4 423.5C732.7 430.2 734.1 433.2 735.8 436.8C737.4 440.4 741.3 443.8 742.4 445.2"/>
<path d="M762.0 280.0C761.8 288.3 761.3 310.6 760.8 330.1C760.3 349.5 758.6 383.7 759.1 396.8C759.7 409.9 761.3 404.6 764.1 408.5C766.9 412.4 771.6 416.5 775.8 420.1C780.0 423.8 783.6 427.1 789.1 430.2C794.7 433.2 804.2 435.7 809.2 438.5C814.2 441.3 816.1 443.2 819.2 446.8C822.2 450.4 825.3 455.7 827.5 460.2C829.7 464.6 831.7 471.3 832.5 473.5"/>
<path d="M760.8 407.8C758.8 408.5 752.4 409.2 749.1 411.8C745.8 414.4 742.3 419.6 740.8 423.5C739.2 427.4 738.9 431.5 739.8 435.2C740.6 438.8 743.1 442.5 745.8 445.2C748.4 447.8 751.9 450.1 755.8 451.2C759.7 452.2 764.9 452.7 769.1 451.5C773.3 450.3 777.9 447.4 780.8 444.2C783.7 440.9 785.5 433.9 786.5 431.8"/>
<path d="M805.2 294.9C805.0 300.8 804.7 315.9 804.2 330.1C803.6 344.3 802.4 367.3 801.8 380.1C801.3 392.9 800.2 400.1 800.8 406.8C801.5 413.5 802.8 416.2 805.8 420.1C808.9 424.0 814.2 426.8 819.2 430.2C824.2 433.5 830.8 435.7 835.9 440.2C840.9 444.6 846.1 451.3 849.2 456.8C852.3 462.4 852.5 468.5 854.2 473.5C855.9 478.5 857.3 483.5 859.2 486.9C861.2 490.2 859.2 491.9 865.9 493.5C872.6 495.2 887.5 496.6 899.3 496.9C911.0 497.2 930.4 495.5 936.6 495.2"/>
<path d="M815.8 442.8C816.5 444.9 817.1 450.5 819.8 455.2C822.6 459.8 829.8 466.5 832.5 470.9C835.2 475.2 833.9 478.0 835.9 481.2C837.8 484.4 839.7 488.0 844.2 490.2C848.6 492.4 859.5 493.5 862.5 494.2"/>
<path d="M772.5 491.9C775.2 489.9 783.0 483.5 789.1 480.2C795.3 476.9 801.9 473.5 809.2 471.9C816.4 470.2 828.6 470.5 832.5 470.2"/>
<path d="M670.7 413.5L715.7 415.1"/>
<path d="M649.0 290.0C652.3 291.7 660.1 297.5 669.0 300.0C677.9 302.5 696.8 304.2 702.4 305.0"/>
<path d="M657.3 295.0C659.3 297.0 665.7 302.2 669.0 306.7C672.4 311.1 676.0 319.2 677.4 321.7"/>
<path d="M585.0 480.0C586.9 481.4 591.6 483.8 596.6 488.2C601.6 492.6 607.6 500.0 614.8 506.5C622.0 513.0 631.5 520.9 639.8 527.3C648.1 533.7 655.9 539.1 664.8 544.8C673.7 550.5 683.0 556.3 693.0 561.4C703.0 566.5 714.5 570.9 725.0 575.1C735.5 579.4 743.4 583.3 755.8 586.8C768.1 590.3 780.8 593.5 799.2 596.2C817.5 598.8 843.6 601.2 865.9 602.8C888.1 604.4 921.5 605.3 932.6 605.8"/>
<path d="M413.3 527.8L638.6 527.8"/>
<path d="M413.3 566.1C446.7 566.1 571.3 566.1 613.5 566.1C655.8 566.1 655.5 566.3 666.9 566.1C678.4 566.0 677.0 565.6 682.4 565.1C687.7 564.7 696.3 563.7 699.1 563.5"/>
<path d="M413.3 575.1C446.7 575.0 571.3 574.7 613.5 574.5C655.8 574.2 655.5 573.6 666.9 573.5C678.4 573.3 675.9 574.3 682.4 573.5C688.8 572.6 701.8 569.3 705.7 568.5"/>
<path d="M520.1 584.5C535.7 584.5 589.1 584.6 613.5 584.5C638.0 584.3 655.5 583.8 666.9 583.5C678.4 583.2 675.3 583.6 682.4 582.8C689.4 582.0 702.9 579.9 709.1 578.5C715.2 577.1 717.4 575.1 719.1 574.5"/>
<path d="M400.0 584.1L428.4 584.1L430.7 580.8L439.4 580.8L440.0 583.5L440.0 615.2"/>
<path d="M510.1 613.5L510.1 582.8L511.4 580.8L515.4 580.1L520.1 584.5"/>
<path d="M440.0 593.5L510.1 593.5"/>
<path d="M440.0 598.5L510.1 598.5"/>
<path d="M458.4 600.2L458.4 613.5"/>
<path d="M490.1 600.2L490.1 613.5"/>
<path d="M454.5 588.2a3.7 4 0 1 0 7.4 0a3.7 4 0 1 0 -7.4 0Z" style="stroke-width:2.4;"/>
<path d="M487.7 588.2a3.7 4 0 1 0 7.4 0a3.7 4 0 1 0 -7.4 0Z" style="stroke-width:2.4;"/>
<path d="M400.0 443.3C401.1 444.4 406.1 447.2 406.7 450.0C407.2 452.8 404.4 457.8 403.3 460.0C402.2 462.2 400.6 462.8 400.0 463.4"/>
<path d="M412.8 527.9L420.0 527.9"/>
</g>
<!-- label -->
<defs><filter id="gs" x="-5%" y="-20%" width="110%" height="140%" color-interpolation-filters="sRGB"><feColorMatrix type="saturate" values="0"/></filter></defs>
<rect x="81.2" y="522.6" width="319.9" height="48.8" fill="#fff" stroke="#000" stroke-width="2.8"/>
<path d="M112.7 534.9L112.7 563.1L107.1 563.1L107.1 544.1L101.5 544.1Q99.9 544.1 99.9 541.4Q99.9 538.6 101.5 538.6L104.9 538.6Q107 537.5 108.3 534.9Z" fill="#000"/>
<g transform="translate(0,563) scale(1,1.04) translate(0,-563)" filter="url(#gs)">
<text class="t" y="563" font-size="39.5" font-weight="bold" id="lbl" x="121.04 141 152.81 181.08 215 226.82 237.68 258.09 280 294.04 304.47 329.45 342.94 352.04 374.69">0 Nm (89 lb-in)</text>
</g>
<g transform="translate(0,658.8) scale(1,0.975) translate(0,-658.8)" filter="url(#gs)">
<text class="t" x="35.6" y="658.8" font-size="25.3" id="gid" stroke="#000" stroke-width="0.55">G01623535</text>
</g>
</svg>
</body></html>
